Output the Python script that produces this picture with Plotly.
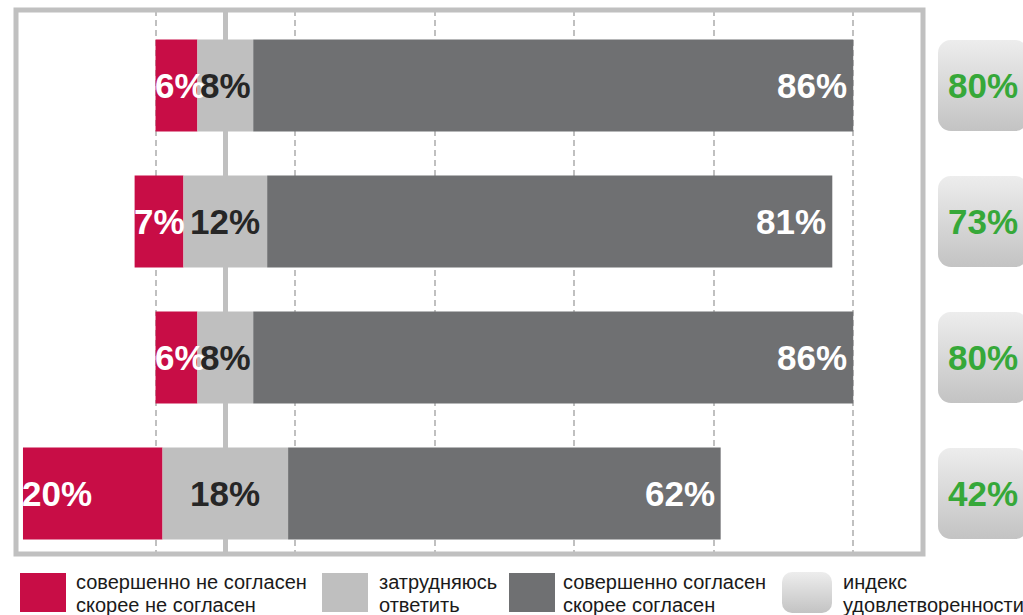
import base64
import plotly.graph_objects as go

# ---------------- data ----------------
rows = ["row1", "row2", "row3", "row4"]
disagree = [6, 7, 6, 20]          # совершенно не согласен / скорее не согласен
neutral = [8, 12, 8, 18]          # затрудняюсь ответить
agree = [86, 81, 86, 62]          # совершенно согласен / скорее согласен
index_vals = [80, 73, 80, 42]     # индекс удовлетворенности
legend_labels = [
    ["совершенно не согласен", "скорее не согласен"],
    ["затрудняюсь", "ответить"],
    ["совершенно согласен", "скорее согласен"],
    ["индекс", "удовлетворенности"],
]

# ---------------- style ----------------
RED = "#C80D46"
LIGHT = "#BFBFBF"
DARK = "#6F7072"
GREEN = "#36A839"
FRAME = "#C0C0C0"
NUMFONT = "Liberation Sans, Arial, sans-serif"
TXTFONT = "Liberation Sans, Arial, sans-serif"

W, H = 1023, 615
L, R, T, B = 16, 100, 10, 61
PW, PH = W - L - R, H - T - B
Y_TOP, Y_BOT = -0.555, 3.445
ROW_PX = PH / (Y_BOT - Y_TOP)


def px(x):
    return (x - L) / PW


def py(y):
    return (H - B - y) / PH


def row_center_px(i):
    return T + (i - Y_TOP) * ROW_PX


def grad_svg(w, h, r):
    svg = (
        f'<svg xmlns="http://www.w3.org/2000/svg" width="{w}" height="{h}" viewBox="0 0 {w} {h}">'
        '<defs><linearGradient id="g" x1="0" y1="0" x2="0" y2="1">'
        '<stop offset="0" stop-color="#EDEDED"/><stop offset="1" stop-color="#C3C3C3"/>'
        '</linearGradient></defs>'
        f'<rect x="0" y="0" width="{w}" height="{h}" rx="{r}" ry="{r}" fill="url(#g)"/></svg>'
    )
    return "data:image/svg+xml;base64," + base64.b64encode(svg.encode()).decode()


red_base = [-n / 2 - d for n, d in zip(neutral, disagree)]
neu_base = [-n / 2 for n in neutral]
agr_base = [n / 2 for n in neutral]

fig = go.Figure()
BW = 0.675
fig.add_bar(y=rows, x=disagree, base=red_base, orientation="h", width=BW,
            marker=dict(color=RED, line=dict(width=0)), showlegend=False, hoverinfo="skip")
fig.add_bar(y=rows, x=neutral, base=neu_base, orientation="h", width=BW,
            marker=dict(color=LIGHT, line=dict(width=0)), showlegend=False, hoverinfo="skip")
fig.add_bar(y=rows, x=agree, base=agr_base, orientation="h", width=BW,
            marker=dict(color=DARK, line=dict(width=0)), showlegend=False, hoverinfo="skip")

ann = []
for i, r in enumerate(rows):
    ann.append(dict(x=red_base[i], y=i, xref="x", yref="y", xanchor="left", yanchor="middle",
                    xshift=-3, text=f"{disagree[i]}%", showarrow=False,
                    font=dict(family=NUMFONT, size=35, color="white", weight="bold")))
    ann.append(dict(x=0, y=i, xref="x", yref="y", xanchor="center", yanchor="middle",
                    text=f"{neutral[i]}%", showarrow=False,
                    font=dict(family=NUMFONT, size=35, color="#262626", weight="bold")))
    ann.append(dict(x=agr_base[i] + agree[i], y=i, xref="x", yref="y", xanchor="right",
                    yanchor="middle", xshift=-4, text=f"{agree[i]}%", showarrow=False,
                    font=dict(family=NUMFONT, size=35, color="white", weight="bold")))
    ann.append(dict(x=px(983), y=i, xref="paper", yref="y", xanchor="center", yanchor="middle",
                    text=f"{index_vals[i]}%", showarrow=False,
                    font=dict(family=NUMFONT, size=35, color=GREEN, weight="bold")))

images = []
box_src = grad_svg(90, 91, 13)
for i in range(len(rows)):
    c = row_center_px(i)
    images.append(dict(source=box_src, xref="paper", yref="paper",
                       x=px(938), y=py(c - 45.5), sizex=90 / PW, sizey=91 / PH,
                       xanchor="left", yanchor="top", sizing="stretch", layer="below"))

# legend
shapes = [dict(type="rect", xref="paper", yref="paper", x0=0, x1=1, y0=0, y1=1,
               line=dict(color=FRAME, width=5), fillcolor="rgba(0,0,0,0)", layer="above")]
sw_x = [20, 322, 509, 782]
txt_x = [74, 377, 561, 841]
sw_cols = [RED, LIGHT, DARK, None]
for k in range(4):
    if sw_cols[k]:
        shapes.append(dict(type="rect", xref="paper", yref="paper",
                           x0=px(sw_x[k]), x1=px(sw_x[k] + 46), y0=py(612), y1=py(573),
                           fillcolor=sw_cols[k], line=dict(width=0)))
    else:
        images.append(dict(source=grad_svg(50, 41, 10), xref="paper", yref="paper",
                           x=px(sw_x[k]), y=py(572), sizex=50 / PW, sizey=41 / PH,
                           xanchor="left", yanchor="top", sizing="stretch", layer="above"))
    for j, line in enumerate(legend_labels[k]):
        ann.append(dict(x=px(txt_x[k]), y=py(582 + 23 * j), xref="paper", yref="paper",
                        xanchor="left", yanchor="middle", text=line, showarrow=False,
                        font=dict(family=TXTFONT, size=20, color="#1A1A1A")))

fig.update_layout(
    width=W, height=H,
    margin=dict(l=L, r=R, t=T, b=B, pad=0),
    paper_bgcolor="white", plot_bgcolor="white",
    barmode="overlay",
    showlegend=False,
    xaxis=dict(range=[-30, 100], tickvals=[-10, 10, 30, 50, 70, 90], showticklabels=False,
               ticks="", showgrid=True, gridcolor=FRAME, gridwidth=1.5, griddash="6px,4px",
               zeroline=True, zerolinecolor=FRAME, zerolinewidth=5, showline=False,
               fixedrange=True),
    yaxis=dict(type="category", categoryarray=rows, range=[Y_BOT, Y_TOP], showticklabels=False,
               ticks="", showgrid=False, zeroline=False, showline=False, fixedrange=True),
    annotations=ann,
    shapes=shapes,
    images=images,
)

fig.write_html("out.html")
